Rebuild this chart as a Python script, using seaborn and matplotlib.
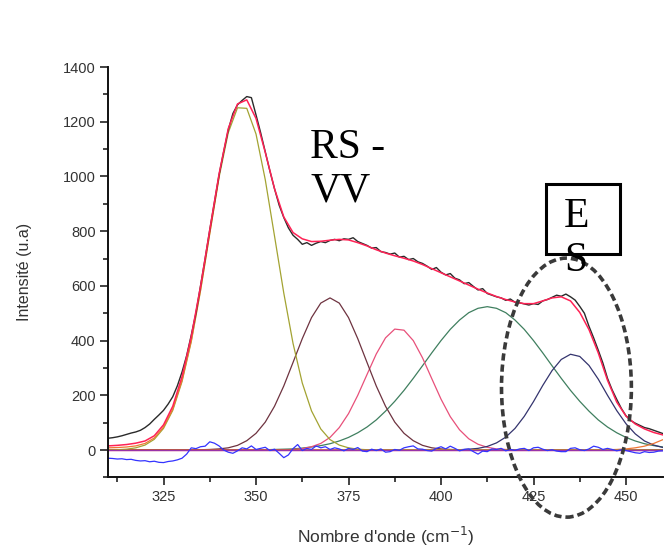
import numpy as np
import pandas as pd
import matplotlib
matplotlib.use("Agg")
import matplotlib.pyplot as plt
from matplotlib.patches import Ellipse, Rectangle
from matplotlib.ticker import MultipleLocator
import seaborn as sns

# ---------------- data ----------------
# fine grid (1.25 cm-1) for measured spectrum and residual
x_fine = np.round(np.arange(310, 460.001, 1.25), 2)
measured = [
    43, 45, 48, 52, 57, 62, 66, 72,
    82, 95, 112, 128, 145, 168, 195, 235,
    285, 345, 420, 500, 600, 700, 805, 905,
    1005, 1090, 1170, 1230, 1262, 1278, 1292, 1288,
    1225, 1160, 1090, 1020, 955, 895, 850, 812,
    785, 770, 752, 758, 748, 756, 762, 758,
    766, 770, 765, 772, 770, 776, 762, 755,
    748, 738, 740, 725, 722, 716, 720, 705,
    708, 696, 700, 688, 682, 672, 660, 667,
    650, 640, 645, 628, 622, 608, 612, 598,
    585, 590, 572, 566, 560, 556, 547, 552,
    540, 538, 534, 530, 535, 532, 545, 550,
    558, 566, 562, 570, 560, 548, 525, 500,
    452, 410, 365, 318, 262, 220, 185, 152,
    125, 108, 98, 90, 82, 78, 72, 66,
    60,
]
residual = [
    -30, -31, -33, -32, -35, -34, -38, -40,
    -39, -43, -41, -45, -46, -42, -40, -36,
    -30, -15, 8, 5, 12, 14, 30, 25,
    15, 0, -8, -12, -3, 8, 4, 15,
    2, 6, 10, -2, 3, -12, -28, -18,
    5, 20, -2, 6, 2, 15, 8, 12,
    2, 8, 4, -3, 6, 2, 9, -4,
    -6, 3, -2, 4, -8, -6, 2, -1,
    8, 12, 15, 4, 3, -2, -4, 6,
    12, 4, 14, 6, -3, 2, 4, -6,
    -15, -4, -6, 4, 2, 6, -3, 2,
    -1, 4, 6, -2, 8, 10, 3, -2,
    1, -4, -6, -6, 6, 8, 1, -2,
    4, 14, 10, 2, 6, 2, -3, 1,
    -2, -6, -10, -12, -6, -9, -8, -4,
    -3,
]

# coarse grid (2.5 cm-1) for fitted curves
x_fit = np.round(np.arange(310, 460.001, 2.5), 2)
fit_total = [
    15, 17, 20, 25, 33, 52, 92, 160,
    268, 415, 598, 805, 1008, 1175, 1265, 1280,
    1212, 1088, 955, 852, 795, 772, 762, 763,
    767, 770, 768, 758, 746, 732, 720, 710,
    701, 691, 678, 663, 648, 633, 618, 603,
    588, 574, 561, 550, 541, 535, 535, 545,
    556, 560, 545, 503, 440, 355, 255, 175,
    124, 95, 77, 64, 55,
]
peak_346 = [
    0, 1, 3, 8, 18, 39, 79, 145,
    250, 396, 582, 791, 996, 1160, 1251, 1249,
    1155, 988, 782, 574, 390, 245, 143, 77,
    38, 18, 8, 3, 1, 0, 0, 0,
    0, 0, 0, 0, 0, 0, 0, 0,
    0, 0, 0, 0, 0, 0, 0, 0,
    0, 0, 0, 0, 0, 0, 0, 0,
    0, 0, 0, 0, 0,
]
peak_left = [
    8, 9, 11, 15, 24, 44, 84, 150,
    255, 400, 585, 793, 997,
]
peak_370 = [
    0, 0, 0, 0, 0, 0, 0, 0,
    0, 0, 1, 2, 4, 8, 17, 34,
    61, 102, 160, 234, 320, 407, 484, 537,
    556, 537, 484, 407, 320, 234, 160, 102,
    61, 34, 17, 8, 4, 2, 1, 0,
    0, 0, 0, 0, 0, 0, 0, 0,
    0, 0, 0, 0, 0, 0, 0, 0,
    0, 0, 0, 0, 0,
]
peak_388 = [
    0, 0, 0, 0, 0, 0, 0, 0,
    0, 0, 0, 0, 0, 0, 0, 0,
    0, 0, 0, 1, 2, 5, 12, 24,
    46, 82, 133, 200, 276, 351, 410, 442,
    438, 400, 337, 261, 186, 122, 74, 41,
    21, 10, 4, 2, 1, 0, 0, 0,
    0, 0, 0, 0, 0, 0, 0, 0,
    0, 0, 0, 0, 0,
]
peak_412 = [
    0, 0, 0, 0, 0, 0, 0, 0,
    0, 0, 0, 0, 0, 0, 0, 0,
    1, 1, 2, 3, 4, 7, 11, 16,
    23, 33, 46, 63, 84, 110, 142, 178,
    218, 262, 308, 355, 400, 441, 475, 502,
    518, 524, 518, 502, 475, 441, 400, 355,
    308, 262, 218, 178, 142, 110, 84, 63,
    46, 33, 23, 16, 11,
]
peak_436 = [
    0, 0, 0, 0, 0, 0, 0, 0,
    0, 0, 0, 0, 0, 0, 0, 0,
    0, 0, 0, 0, 0, 0, 0, 0,
    0, 0, 0, 0, 0, 0, 0, 0,
    0, 0, 0, 0, 0, 0, 1, 3,
    6, 13, 26, 47, 79, 123, 177, 236,
    290, 331, 350, 342, 309, 259, 200, 144,
    96, 59, 33, 18, 9,
]
peak_right = [
    0, 0, 0, 0, 0, 0, 0, 0,
    0, 0, 0, 0, 0, 0, 0, 0,
    0, 0, 0, 0, 0, 0, 0, 0,
    0, 0, 0, 0, 0, 0, 0, 0,
    0, 0, 0, 0, 0, 0, 0, 0,
    0, 0, 0, 0, 0, 0, 0, 0,
    0, 0, 0, 0, 0, 0, 1, 2,
    4, 8, 14, 24, 38,
]

x_ticks = [325, 350, 375, 400, 425, 450]
y_ticks = [0, 200, 400, 600, 800, 1000, 1200, 1400]

# ---------------- figure ----------------
sns.set_theme(style="ticks")
plt.rcParams["font.family"] = ["Liberation Sans", "DejaVu Sans"]

fig = plt.figure(figsize=(6.66, 5.48), dpi=100)
ax = fig.add_axes([0.1622, 0.1289, 0.8333, 0.7488])
ax.set_facecolor("white")
fig.patch.set_facecolor("white")

lw = 0.9
comps = [
    (peak_412, "#3f7f5f"),
    (peak_388, "#e8507a"),
    (peak_370, "#6e3340"),
    (peak_436, "#34346e"),
    (peak_right, "#ee7733"),
    (peak_346, "#a3a332"),
]
for vals, col in comps:
    sns.lineplot(x=x_fit, y=vals, color=col, lw=lw, ax=ax, estimator=None, sort=False)
sns.lineplot(x=x_fit[:len(peak_left)], y=peak_left, color="#ee7733", lw=lw, ax=ax,
             estimator=None, sort=False)

# baselines
sns.lineplot(x=x_fit, y=np.zeros(len(x_fit)), color="#ee2244", lw=lw, ax=ax)
sns.lineplot(x=x_fit, y=np.zeros(len(x_fit)), color="#9933aa", lw=lw, ax=ax)

sns.lineplot(x=x_fine, y=residual, color="#3333ff", lw=lw, ax=ax, estimator=None, sort=False)
sns.lineplot(x=x_fine, y=measured, color="#2a2a2a", lw=1.0, ax=ax, estimator=None, sort=False)
sns.lineplot(x=x_fit, y=fit_total, color="#ff2255", lw=1.1, ax=ax, estimator=None, sort=False)

ax.set_xlim(310, 460)
ax.set_ylim(-100, 1400)
ax.set_xticks(x_ticks)
ax.set_yticks(y_ticks)
ax.xaxis.set_minor_locator(MultipleLocator(12.5))
ax.yaxis.set_minor_locator(MultipleLocator(100))
ax.tick_params(axis="both", which="major", direction="out", length=6, width=1.2,
               labelsize=10.5, labelcolor="#333333", color="#222222", pad=3)
ax.tick_params(axis="both", which="minor", direction="out", length=3.5, width=1.2,
               color="#222222")
for side in ["top", "right"]:
    ax.spines[side].set_visible(False)
for side in ["left", "bottom"]:
    ax.spines[side].set_linewidth(1.4)
    ax.spines[side].set_color("#111111")

ax.set_xlabel("Nombre d'onde (cm$^{-1}$)", fontsize=12.5, color="#333333", labelpad=15)
ax.set_ylabel("Intensité (u.a)", fontsize=11.5, color="#333333", labelpad=22)

# dashed ellipse around the ES region
ell = Ellipse((433.9, 228), 35.1, 947, fill=False, edgecolor="#3a3a3a", lw=2.6,
              ls=(0, (2.0, 1.1)), clip_on=False, zorder=10)
ax.add_patch(ell)

# annotations
serif = ["Liberation Serif", "DejaVu Serif"]
fig.text(0.4655, 1 - 158 / 548, "RS -", fontsize=30, family=serif, color="black",
         va="baseline", ha="left")
fig.text(0.4655, 1 - 202 / 548, "VV", fontsize=30, family=serif, color="black",
         va="baseline", ha="left")
fig.patches.append(Rectangle((546 / 666, 1 - 254 / 548), 74 / 666, 70 / 548,
                             fill=False, edgecolor="black", lw=2.2,
                             transform=fig.transFigure, figure=fig))
fig.text(564 / 666, 1 - 227 / 548, "E", fontsize=30, family=serif, color="black",
         va="baseline", ha="left")
fig.text(564 / 666, 1 - 271 / 548, "S", fontsize=30, family=serif, color="black",
         va="baseline", ha="left")

fig.savefig("out.png", dpi=100, facecolor="white")
